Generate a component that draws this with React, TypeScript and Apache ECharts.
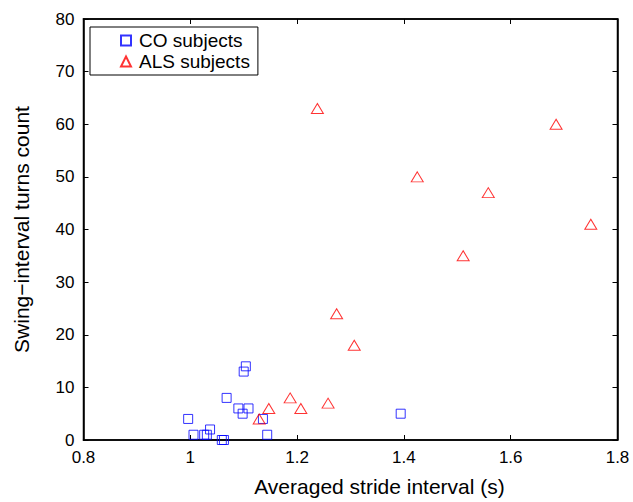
import React, { useEffect, useRef } from "react";
import * as echarts from "echarts";

const coX = [0.996, 1.006, 1.026, 1.031, 1.037, 1.059, 1.063, 1.068, 1.09, 1.098, 1.1, 1.104, 1.109, 1.136, 1.144, 1.394];
const coY = [4, 1, 1, 1, 2, 0, 0, 8, 6, 5, 13, 14, 6, 4, 1, 5];
const alsX = [1.129, 1.147, 1.187, 1.207, 1.238, 1.258, 1.274, 1.307, 1.425, 1.511, 1.558, 1.685, 1.75];
const alsY = [4, 6, 8, 6, 63, 7, 24, 18, 50, 35, 47, 60, 41];

const seriesNames = ["CO subjects", "ALS subjects"];
const xTitle = "Averaged stride interval (s)";
const yTitle = "Swing\u2212interval turns count";

const FONT = "'Liberation Sans', Arial, Helvetica, sans-serif";

export default function App() {
  const ref = useRef<HTMLDivElement>(null);
  useEffect(() => {
    if (!ref.current) return;
    const chart = echarts.init(ref.current, undefined, { renderer: "svg" });
    const axisLine = { show: true, onZero: false, lineStyle: { color: "#000", width: 1.5 } };
    const tick = { show: true, inside: true, length: 5, lineStyle: { color: "#000", width: 1 } };
    chart.setOption({
      animation: false,
      backgroundColor: "#fff",
      textStyle: { fontFamily: FONT },
      grid: {
        left: 83.5,
        right: 15.5,
        top: 19,
        bottom: 61.5,
        containLabel: false,
        show: true,
        borderColor: "#000",
        borderWidth: 1.5,
        backgroundColor: "rgba(0,0,0,0)",
      },
      legend: {
        orient: "vertical",
        left: 90,
        top: 27,
        data: seriesNames,
        borderColor: "#000",
        borderWidth: 1,
        backgroundColor: "#fff",
        padding: [4, 8, 4, 30],
        itemGap: 2,
        itemWidth: 10,
        itemHeight: 10,
        textStyle: { fontSize: 19, color: "#000", fontFamily: FONT, padding: [0, 0, 0, 3] },
      },
      xAxis: [
        {
          type: "value",
          min: 0.8,
          max: 1.8,
          interval: 0.2,
          position: "bottom",
          name: xTitle,
          nameLocation: "middle",
          nameGap: 36,
          nameTextStyle: { fontSize: 21, color: "#000", fontFamily: FONT, padding: [0, 0, 0, 58] },
          axisLine,
          axisTick: tick,
          splitLine: { show: false },
          axisLabel: {
            color: "#000",
            fontSize: 17,
            margin: 9,
            fontFamily: FONT,
            formatter: (v: number) => (Math.round(v * 10) / 10).toString(),
          },
        },
        {
          type: "value",
          min: 0.8,
          max: 1.8,
          interval: 0.2,
          position: "top",
          axisLine,
          axisTick: tick,
          splitLine: { show: false },
          axisLabel: { show: false },
        },
      ],
      yAxis: [
        {
          type: "value",
          min: 0,
          max: 80,
          interval: 10,
          position: "left",
          name: yTitle,
          nameLocation: "middle",
          nameGap: 52,
          nameTextStyle: { fontSize: 21, color: "#000", fontFamily: FONT },
          axisLine,
          axisTick: tick,
          splitLine: { show: false },
          axisLabel: { color: "#000", fontSize: 17, margin: 9, fontFamily: FONT },
        },
        {
          type: "value",
          min: 0,
          max: 80,
          interval: 10,
          position: "right",
          axisLine,
          axisTick: tick,
          splitLine: { show: false },
          axisLabel: { show: false },
        },
      ],
      series: [
        {
          name: seriesNames[0],
          type: "scatter",
          symbol: "rect",
          symbolSize: 9,
          itemStyle: { color: "rgba(0,0,0,0)", borderColor: "#0000ff", borderWidth: 1 },
          data: coX.map((x, i) => [x, coY[i]]),
        },
        {
          name: seriesNames[1],
          type: "scatter",
          symbol: "triangle",
          symbolSize: [12, 10],
          itemStyle: { color: "rgba(0,0,0,0)", borderColor: "#ff0000", borderWidth: 1 },
          data: alsX.map((x, i) => [x, alsY[i]]),
        },
      ],
    });
    return () => chart.dispose();
  }, []);
  return <div ref={ref} style={{ position: "fixed", left: 0, top: 0, width: 633, height: 502 }} />;
}
